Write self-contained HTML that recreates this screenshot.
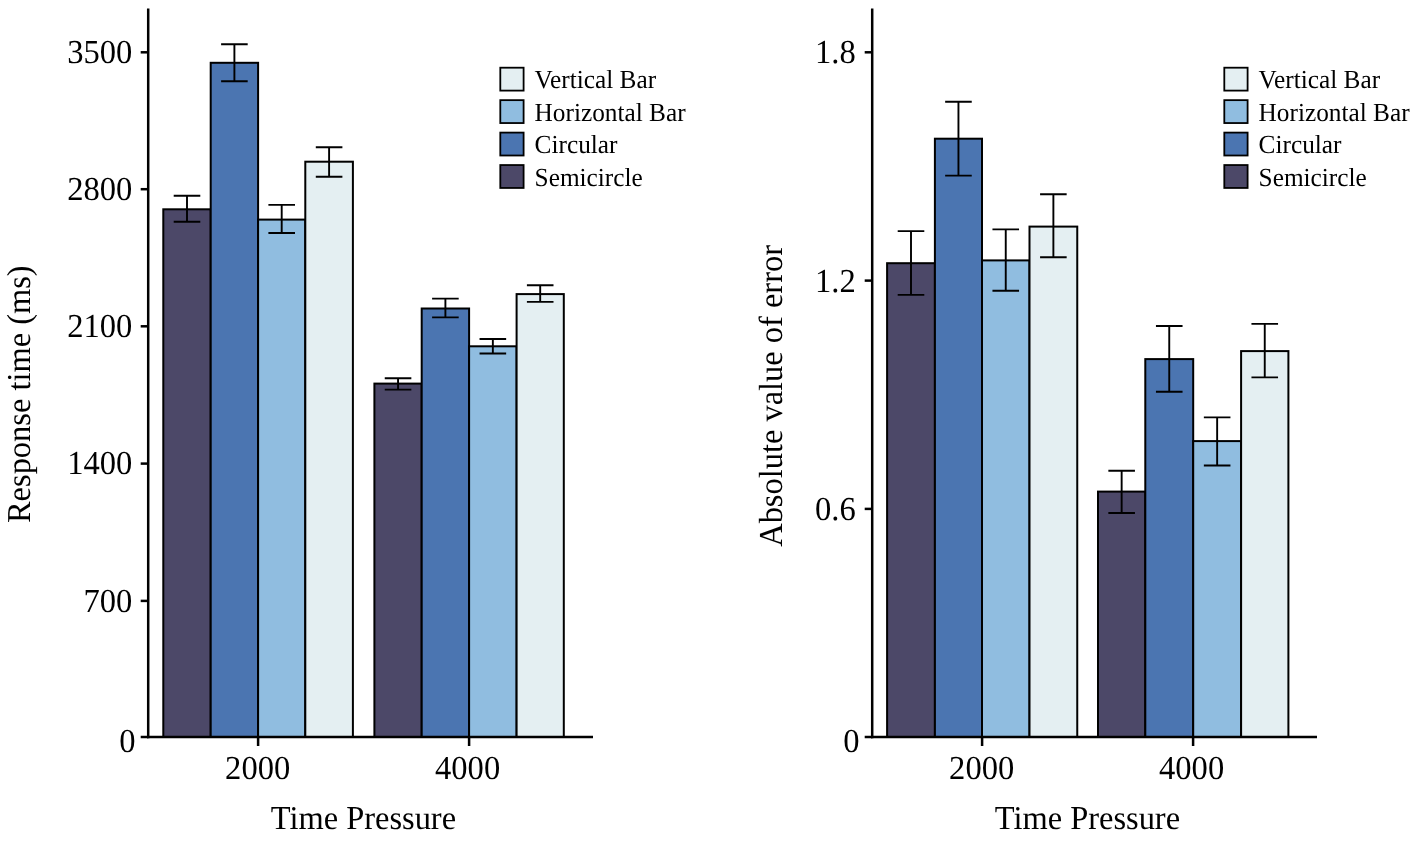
<!DOCTYPE html>
<html><head><meta charset="utf-8"><style>
html,body{margin:0;padding:0;background:#fff;width:1417px;height:841px;overflow:hidden}
svg{display:block;will-change:transform;font-family:"Liberation Serif",serif;fill:#000;text-rendering:geometricPrecision}
</style></head><body>
<svg width="1417" height="841" viewBox="0 0 1417 841">
<rect width="1417" height="841" fill="#fff"/>
<rect x="163.30" y="209.30" width="47.40" height="527.70" fill="#4c4868" stroke="#000" stroke-width="2.0"/>
<rect x="210.70" y="62.80" width="47.40" height="674.20" fill="#4b75b1" stroke="#000" stroke-width="2.0"/>
<rect x="258.10" y="219.60" width="47.20" height="517.40" fill="#90bde0" stroke="#000" stroke-width="2.0"/>
<rect x="305.30" y="161.70" width="47.60" height="575.30" fill="#e4eff2" stroke="#000" stroke-width="2.0"/>
<rect x="374.40" y="383.60" width="47.30" height="353.40" fill="#4c4868" stroke="#000" stroke-width="2.0"/>
<rect x="421.70" y="308.50" width="47.40" height="428.50" fill="#4b75b1" stroke="#000" stroke-width="2.0"/>
<rect x="469.10" y="346.30" width="47.50" height="390.70" fill="#90bde0" stroke="#000" stroke-width="2.0"/>
<rect x="516.60" y="294.10" width="47.20" height="442.90" fill="#e4eff2" stroke="#000" stroke-width="2.0"/>
<path d="M173.70 195.70H200.30M187.00 195.70V221.70M173.70 221.70H200.30" stroke="#000" stroke-width="1.9" fill="none"/>
<path d="M221.10 44.20H247.70M234.40 44.20V81.20M221.10 81.20H247.70" stroke="#000" stroke-width="1.9" fill="none"/>
<path d="M268.40 204.90H295.00M281.70 204.90V233.00M268.40 233.00H295.00" stroke="#000" stroke-width="1.9" fill="none"/>
<path d="M315.80 147.30H342.40M329.10 147.30V176.80M315.80 176.80H342.40" stroke="#000" stroke-width="1.9" fill="none"/>
<path d="M384.75 378.20H411.35M398.05 378.20V389.60M384.75 389.60H411.35" stroke="#000" stroke-width="1.9" fill="none"/>
<path d="M432.10 298.60H458.70M445.40 298.60V317.40M432.10 317.40H458.70" stroke="#000" stroke-width="1.9" fill="none"/>
<path d="M479.55 339.00H506.15M492.85 339.00V353.50M479.55 353.50H506.15" stroke="#000" stroke-width="1.9" fill="none"/>
<path d="M526.90 285.30H553.50M540.20 285.30V301.90M526.90 301.90H553.50" stroke="#000" stroke-width="1.9" fill="none"/>
<path d="M148.20 8.6V738.25" stroke="#000" stroke-width="2.5"/>
<path d="M146.95 737.0H593.00" stroke="#000" stroke-width="2.5"/>
<path d="M140.70 52.30H148.20" stroke="#000" stroke-width="2.5"/>
<path d="M140.70 189.20H148.20" stroke="#000" stroke-width="2.5"/>
<path d="M140.70 326.30H148.20" stroke="#000" stroke-width="2.5"/>
<path d="M140.70 463.60H148.20" stroke="#000" stroke-width="2.5"/>
<path d="M140.70 600.90H148.20" stroke="#000" stroke-width="2.5"/>
<path d="M140.70 737.00H148.20" stroke="#000" stroke-width="2.5"/>
<path d="M258.10 737.00V746.00" stroke="#000" stroke-width="2.5"/>
<path d="M469.10 737.00V746.00" stroke="#000" stroke-width="2.5"/>
<text transform="translate(132.40 63.00) scale(1 1.03)" text-anchor="end" font-size="32.6">3500</text>
<text transform="translate(132.40 200.00) scale(1 1.03)" text-anchor="end" font-size="32.6">2800</text>
<text transform="translate(132.40 337.00) scale(1 1.03)" text-anchor="end" font-size="32.6">2100</text>
<text transform="translate(132.40 474.00) scale(1 1.03)" text-anchor="end" font-size="32.6">1400</text>
<text transform="translate(132.40 612.00) scale(1 1.03)" text-anchor="end" font-size="32.6">700</text>
<text transform="translate(135.60 751.50) scale(1 1.03)" text-anchor="end" font-size="32.6">0</text>
<text transform="translate(257.70 778.80) scale(1 1.03)" text-anchor="middle" font-size="32.6">2000</text>
<text transform="translate(467.60 778.80) scale(1 1.03)" text-anchor="middle" font-size="32.6">4000</text>
<text transform="translate(363.40 829.00) scale(1 1.03)" text-anchor="middle" font-size="32.45">Time Pressure</text>
<text transform="translate(29.80 394.20) rotate(-90) scale(1 1.03)" text-anchor="middle" font-size="32.45">Response time (ms)</text>
<rect x="500.30" y="67.70" width="23.3" height="22.9" fill="#e4eff2" stroke="#000" stroke-width="1.8"/>
<text transform="translate(534.60 88.45) scale(1 1.03)" font-size="25.3">Vertical Bar</text>
<rect x="500.30" y="100.15" width="23.3" height="22.9" fill="#90bde0" stroke="#000" stroke-width="1.8"/>
<text transform="translate(534.60 120.90) scale(1 1.03)" font-size="25.3">Horizontal Bar</text>
<rect x="500.30" y="132.60" width="23.3" height="22.9" fill="#4b75b1" stroke="#000" stroke-width="1.8"/>
<text transform="translate(534.60 153.35) scale(1 1.03)" font-size="25.3">Circular</text>
<rect x="500.30" y="165.05" width="23.3" height="22.9" fill="#4c4868" stroke="#000" stroke-width="1.8"/>
<text transform="translate(534.60 185.80) scale(1 1.03)" font-size="25.3">Semicircle</text>
<rect x="887.10" y="263.20" width="47.80" height="473.80" fill="#4c4868" stroke="#000" stroke-width="2.0"/>
<rect x="934.90" y="138.70" width="47.10" height="598.30" fill="#4b75b1" stroke="#000" stroke-width="2.0"/>
<rect x="982.00" y="260.40" width="47.50" height="476.60" fill="#90bde0" stroke="#000" stroke-width="2.0"/>
<rect x="1029.50" y="226.60" width="47.75" height="510.40" fill="#e4eff2" stroke="#000" stroke-width="2.0"/>
<rect x="1098.00" y="491.60" width="47.30" height="245.40" fill="#4c4868" stroke="#000" stroke-width="2.0"/>
<rect x="1145.30" y="359.10" width="47.90" height="377.90" fill="#4b75b1" stroke="#000" stroke-width="2.0"/>
<rect x="1193.20" y="441.10" width="47.90" height="295.90" fill="#90bde0" stroke="#000" stroke-width="2.0"/>
<rect x="1241.10" y="351.10" width="47.30" height="385.90" fill="#e4eff2" stroke="#000" stroke-width="2.0"/>
<path d="M897.70 231.10H924.30M911.00 231.10V294.90M897.70 294.90H924.30" stroke="#000" stroke-width="1.9" fill="none"/>
<path d="M945.15 101.80H971.75M958.45 101.80V175.60M945.15 175.60H971.75" stroke="#000" stroke-width="1.9" fill="none"/>
<path d="M992.45 229.40H1019.05M1005.75 229.40V290.80M992.45 290.80H1019.05" stroke="#000" stroke-width="1.9" fill="none"/>
<path d="M1040.08 194.30H1066.67M1053.38 194.30V257.30M1040.08 257.30H1066.67" stroke="#000" stroke-width="1.9" fill="none"/>
<path d="M1108.35 470.80H1134.95M1121.65 470.80V513.00M1108.35 513.00H1134.95" stroke="#000" stroke-width="1.9" fill="none"/>
<path d="M1155.95 326.00H1182.55M1169.25 326.00V391.80M1155.95 391.80H1182.55" stroke="#000" stroke-width="1.9" fill="none"/>
<path d="M1203.85 417.40H1230.45M1217.15 417.40V465.50M1203.85 465.50H1230.45" stroke="#000" stroke-width="1.9" fill="none"/>
<path d="M1251.45 323.90H1278.05M1264.75 323.90V377.40M1251.45 377.40H1278.05" stroke="#000" stroke-width="1.9" fill="none"/>
<path d="M872.20 8.6V738.25" stroke="#000" stroke-width="2.5"/>
<path d="M870.95 737.0H1317.00" stroke="#000" stroke-width="2.5"/>
<path d="M864.70 52.30H872.20" stroke="#000" stroke-width="2.5"/>
<path d="M864.70 280.60H872.20" stroke="#000" stroke-width="2.5"/>
<path d="M864.70 508.90H872.20" stroke="#000" stroke-width="2.5"/>
<path d="M864.70 737.00H872.20" stroke="#000" stroke-width="2.5"/>
<path d="M982.10 737.00V746.00" stroke="#000" stroke-width="2.5"/>
<path d="M1193.10 737.00V746.00" stroke="#000" stroke-width="2.5"/>
<text transform="translate(855.80 63.20) scale(1 1.03)" text-anchor="end" font-size="32.6">1.8</text>
<text transform="translate(855.80 291.70) scale(1 1.03)" text-anchor="end" font-size="32.6">1.2</text>
<text transform="translate(855.80 520.20) scale(1 1.03)" text-anchor="end" font-size="32.6">0.6</text>
<text transform="translate(859.60 751.50) scale(1 1.03)" text-anchor="end" font-size="32.6">0</text>
<text transform="translate(981.70 778.80) scale(1 1.03)" text-anchor="middle" font-size="32.6">2000</text>
<text transform="translate(1191.60 778.80) scale(1 1.03)" text-anchor="middle" font-size="32.6">4000</text>
<text transform="translate(1087.40 829.00) scale(1 1.03)" text-anchor="middle" font-size="32.45">Time Pressure</text>
<text transform="translate(782.20 395.90) rotate(-90) scale(1 1.03)" text-anchor="middle" font-size="32.45">Absolute value of error</text>
<rect x="1224.30" y="67.70" width="23.3" height="22.9" fill="#e4eff2" stroke="#000" stroke-width="1.8"/>
<text transform="translate(1258.60 88.45) scale(1 1.03)" font-size="25.3">Vertical Bar</text>
<rect x="1224.30" y="100.15" width="23.3" height="22.9" fill="#90bde0" stroke="#000" stroke-width="1.8"/>
<text transform="translate(1258.60 120.90) scale(1 1.03)" font-size="25.3">Horizontal Bar</text>
<rect x="1224.30" y="132.60" width="23.3" height="22.9" fill="#4b75b1" stroke="#000" stroke-width="1.8"/>
<text transform="translate(1258.60 153.35) scale(1 1.03)" font-size="25.3">Circular</text>
<rect x="1224.30" y="165.05" width="23.3" height="22.9" fill="#4c4868" stroke="#000" stroke-width="1.8"/>
<text transform="translate(1258.60 185.80) scale(1 1.03)" font-size="25.3">Semicircle</text>
</svg>
</body></html>
